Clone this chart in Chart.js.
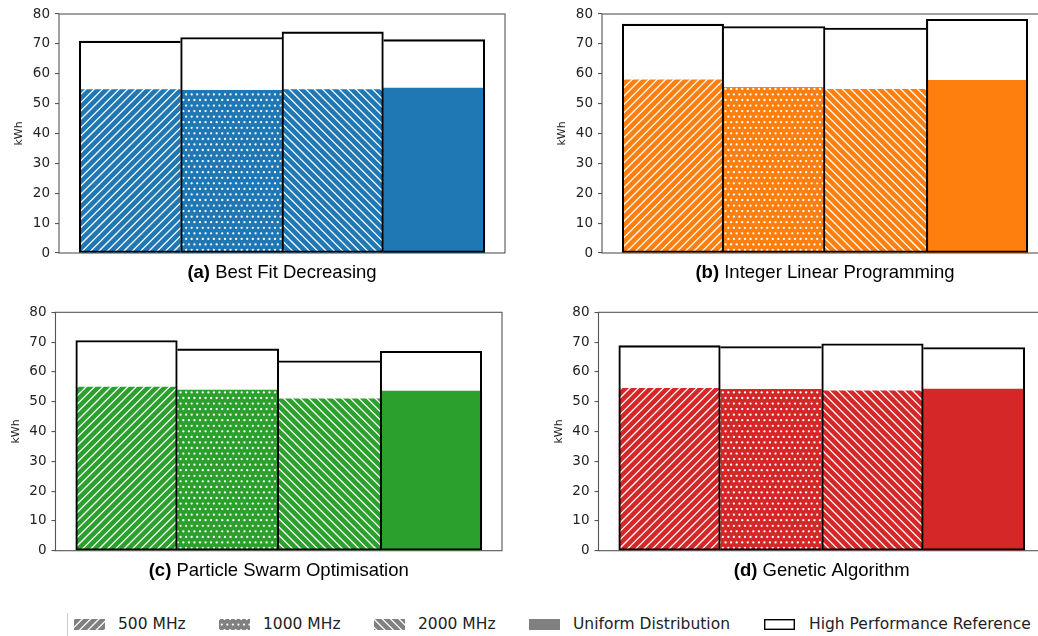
<!DOCTYPE html>
<html>
<head>
<meta charset="utf-8">
<script src="https://cdn.jsdelivr.net/npm/chart.js@4.4.1/dist/chart.umd.min.js"></script>
<style>
  html, body { margin: 0; padding: 0; background: #fff; width: 1038px; height: 636px; overflow: hidden; }
  canvas { position: absolute; }
  .leg-text { position: absolute; top: 614px; font: 15.5px "DejaVu Sans", sans-serif; line-height: 20px; color: #222; white-space: nowrap; }
  .leg-frame { position: absolute; left: 67px; top: 613px; width: 0; height: 30px; border-left: 1px solid #ccc; }
</style>
</head>
<body>
<canvas id="chartA" width="520" height="290" style="left:0;top:0"></canvas>
<canvas id="chartB" width="528" height="290" style="left:520px;top:0"></canvas>
<canvas id="chartC" width="520" height="292" style="left:0;top:298px"></canvas>
<canvas id="chartD" width="528" height="292" style="left:520px;top:298px"></canvas>
<div class="leg-frame"></div>
<div id="legend"></div>
<script>
  // data (kWh)
  const categories = ['500 MHz', '1000 MHz', '2000 MHz', 'Uniform Distribution'];
  const referenceLabel = 'High Performance Reference';
  const hatches = ['/', '.', '\\', ''];

  const bfdEnergy = [55.0, 54.8, 55.0, 55.2];
  const bfdReference = [70.9, 72.1, 74.0, 71.4];
  const ilpEnergy = [58.3, 55.8, 55.1, 57.8];
  const ilpReference = [76.6, 75.8, 75.3, 78.2];
  const psoEnergy = [55.2, 54.2, 51.3, 53.6];
  const psoReference = [70.5, 67.7, 63.7, 66.9];
  const gaEnergy = [54.8, 54.5, 54.0, 54.2];
  const gaReference = [68.8, 68.5, 69.4, 68.2];

  const yMax = 80;
  const yStep = 10;

  const blue = '#1f77b4';
  const orange = '#ff7f0e';
  const green = '#2ca02c';
  const red = '#d62728';

  // matplotlib style hatch, one 100px unit tile
  function hatchPattern(ctx, color, hatch) {
    if (!hatch) return color;
    const S = 100;
    const c = document.createElement('canvas');
    c.width = S; c.height = S;
    const g = c.getContext('2d');
    g.fillStyle = color;
    g.fillRect(0, 0, S, S);
    g.strokeStyle = '#fff';
    g.fillStyle = '#fff';
    g.lineWidth = 1.3;
    if (hatch === '/') {
      const n = 12;
      for (let k = 0; k <= 2 * n; k++) {
        const cc = k * S / n;
        g.beginPath(); g.moveTo(cc + 2, -2); g.lineTo(cc - S - 2, S + 2); g.stroke();
      }
    } else if (hatch === '\\') {
      const n = 12;
      for (let k = -n; k <= n; k++) {
        const cc = k * S / n;
        g.beginPath(); g.moveTo(cc - 2, -2); g.lineTo(cc + S + 2, S + 2); g.stroke();
      }
    } else if (hatch === '.') {
      const n = 18;
      const d = S / n;
      for (let r = 0; r <= n; r++) {
        const cols = r % 2 === 0 ? n + 1 : n;
        for (let k = 0; k < cols; k++) {
          const x = r % 2 === 0 ? k * d : (k + 0.5) * d;
          g.beginPath(); g.arc(x, r * d, 1.15, 0, Math.PI * 2); g.fill();
        }
      }
    }
    return ctx.createPattern(c, 'repeat');
  }

  const framePlugin = {
    id: 'frame',
    beforeDatasetsDraw(chart) {
      const { ctx, chartArea: a } = chart;
      ctx.save();
      ctx.strokeStyle = '#555';
      ctx.lineWidth = 1.1;
      ctx.strokeRect(a.left, a.top, a.right - a.left, a.bottom - a.top);
      ctx.restore();
    }
  };

  const captionPlugin = {
    id: 'caption',
    afterDraw(chart, args, opts) {
      const { ctx, chartArea: a } = chart;
      const bold = 'bold 18.5px "Liberation Sans", Arial, sans-serif';
      const reg = '18.5px "Liberation Sans", Arial, sans-serif';
      ctx.save();
      ctx.textBaseline = 'middle';
      ctx.textAlign = 'left';
      ctx.fillStyle = '#000';
      ctx.font = bold;
      const w1 = ctx.measureText(opts.tag).width;
      ctx.font = reg;
      const w2 = ctx.measureText(' ' + opts.text).width;
      const x = (a.left + a.right) / 2 - (w1 + w2) / 2;
      const y = a.bottom + 20;
      ctx.font = bold;
      ctx.fillText(opts.tag, x, y);
      ctx.font = reg;
      ctx.fillText(' ' + opts.text, x + w1, y);
      ctx.restore();
    }
  };

  function refBorder(c) {
    const d = c.dataset.data;
    const i = c.dataIndex;
    const v = d[i].y;
    const lw = 1.4;
    const left = (i === 0 || v >= d[i - 1].y) ? lw : 0;
    const right = (i === d.length - 1 || v > d[i + 1].y) ? lw : 0;
    return { top: lw, bottom: lw, left: left, right: right };
  }

  function makeChart(id, tag, text, energy, reference, color, yWidth, padding) {
    const ctx = document.getElementById(id).getContext('2d');
    const fills = hatches.map(h => hatchPattern(ctx, color, h));
    return new Chart(ctx, {
      type: 'bar',
      data: {
        datasets: [{
          label: referenceLabel,
          data: reference.map((v, i) => ({ x: i, y: v })),
          backgroundColor: 'rgba(0,0,0,0)',
          borderColor: '#000',
          borderWidth: refBorder,
          borderSkipped: false,
          grouped: false,
          order: 0,
          barPercentage: 1,
          categoryPercentage: 1
        }, {
          label: 'energy',
          data: energy.map((v, i) => ({ x: i, y: v })),
          backgroundColor: fills,
          borderColor: 'rgba(255,255,255,0.55)',
          borderWidth: hatches.map(h => h ? { top: 1, left: 0, right: 0, bottom: 0 } : 0),
          grouped: false,
          order: 1,
          barPercentage: 1,
          categoryPercentage: 1
        }]
      },
      options: {
        responsive: false,
        animation: false,
        layout: { padding: padding },
        plugins: {
          legend: { display: false },
          tooltip: { enabled: false },
          caption: { tag: tag, text: text }
        },
        scales: {
          x: {
            type: 'linear', min: -0.7, max: 3.7, offset: false, display: false,
            ticks: { stepSize: 1, includeBounds: false }
          },
          y: {
            min: 0,
            max: yMax,
            ticks: { stepSize: yStep, color: '#222', padding: 5, font: { family: 'DejaVu Sans', size: 13.5 } },
            grid: { drawOnChartArea: false, drawTicks: true, tickLength: 4, color: '#555', lineWidth: 1.1 },
            border: { display: false },
            title: {
              display: true, text: 'kWh', color: '#222',
              font: { family: 'DejaVu Sans', size: 11 },
              padding: { top: yWidth - 39.5 - 6.6, bottom: 0 }
            },
            afterFit: s => { s.width = yWidth; }
          }
        }
      },
      plugins: [framePlugin, captionPlugin]
    });
  }

  makeChart('chartA', '(a)', 'Best Fit Decreasing', bfdEnergy, bfdReference, blue, 59,
    { top: 14, right: 15, bottom: 37, left: 0 });
  makeChart('chartB', '(b)', 'Integer Linear Programming', ilpEnergy, ilpReference, orange, 82,
    { top: 14, right: 0, bottom: 37, left: 0 });
  makeChart('chartC', '(c)', 'Particle Swarm Optimisation', psoEnergy, psoReference, green, 55.5,
    { top: 14.3, right: 18, bottom: 39.3, left: 0 });
  makeChart('chartD', '(d)', 'Genetic Algorithm', gaEnergy, gaReference, red, 78.5,
    { top: 14.3, right: 3, bottom: 39.3, left: 0 });

  // legend along the bottom
  const legendPatchX = [74, 219, 374, 529, 764];
  const legendTextX = [118, 263, 418, 573, 809];
  const legend = document.getElementById('legend');
  const labels = categories.concat([referenceLabel]);
  labels.forEach((lab, i) => {
    const c = document.createElement('canvas');
    c.width = 31; c.height = 11;
    c.style.left = legendPatchX[i] + 'px';
    c.style.top = '619px';
    legend.appendChild(c);
    const g = c.getContext('2d');
    if (i < 4) {
      g.fillStyle = hatchPattern(g, '#808080', hatches[i]);
      g.fillRect(0, 0, 31, 11);
    } else {
      g.fillStyle = '#fff';
      g.fillRect(0, 0, 31, 11);
      g.strokeStyle = '#000';
      g.lineWidth = 1.4;
      g.strokeRect(0.7, 0.7, 29.6, 9.6);
    }
    const s = document.createElement('span');
    s.className = 'leg-text';
    s.style.left = legendTextX[i] + 'px';
    s.textContent = lab;
    legend.appendChild(s);
  });
</script>
</body>
</html>
